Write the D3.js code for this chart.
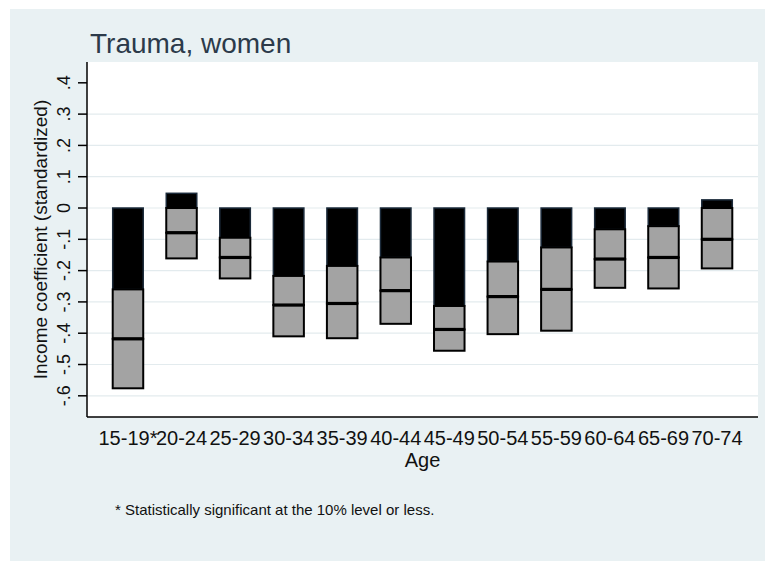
<!DOCTYPE html>
<html>
<head>
<meta charset="utf-8">
<script src="https://cdn.jsdelivr.net/npm/d3@7"></script>
<style>
  html, body { margin: 0; padding: 0; background: #ffffff; }
  svg { display: block; }
  text { font-family: "Liberation Sans", Arial, sans-serif; }
</style>
</head>
<body>
<svg id="chart" width="765" height="561"></svg>
<script>
// Age groups (asterisk marks significance)
const ages = ["15-19*", "20-24", "25-29", "30-34", "35-39", "40-44",
              "45-49", "50-54", "55-59", "60-64", "65-69", "70-74"];
// End of the dark segment (upper bound of the interval)
const upper = [-0.260, 0.047, -0.095, -0.217, -0.185, -0.158,
               -0.313, -0.171, -0.126, -0.068, -0.058, 0.026];
// Point estimate (line inside the grey box)
const estimate = [-0.418, -0.079, -0.158, -0.310, -0.305, -0.264,
                  -0.388, -0.283, -0.260, -0.163, -0.158, -0.100];
// Lower bound of the interval
const lower = [-0.576, -0.161, -0.225, -0.410, -0.416, -0.370,
               -0.456, -0.403, -0.392, -0.255, -0.257, -0.193];

// Y axis ticks and their labels
const yTicks = [-0.6, -0.5, -0.4, -0.3, -0.2, -0.1, 0, 0.1, 0.2, 0.3, 0.4];
const yTickLabels = ["-.6", "-.5", "-.4", "-.3", "-.2", "-.1", "0", ".1", ".2", ".3", ".4"];

const titleText = "Trauma, women";
const yTitle = "Income coefficient (standardized)";
const xTitle = "Age";
const note = "* Statistically significant at the 10% level or less.";

const svg = d3.select("#chart");
const W = 765, H = 561;
const plot = { left: 87, right: 758, top: 62, bottom: 417 };

// outer graph background
svg.append("rect").attr("x", 10).attr("y", 9)
  .attr("width", W - 10).attr("height", H - 9).attr("fill", "#e9f1f3");
// plot region
svg.append("rect").attr("x", plot.left).attr("y", plot.top)
  .attr("width", plot.right - plot.left).attr("height", plot.bottom - plot.top)
  .attr("fill", "#ffffff");

const y = d3.scaleLinear().domain([-0.6677, 0.4665]).range([plot.bottom, plot.top]);
const x = d3.scaleBand().domain(ages).range([plot.left, plot.right])
  .paddingInner(0.43).paddingOuter(0.48);

// horizontal gridlines
svg.append("g").selectAll("line")
  .data(yTicks.filter(v => v < 0.35))
  .join("line")
  .attr("x1", plot.left).attr("x2", plot.right)
  .attr("y1", d => y(d)).attr("y2", d => y(d))
  .attr("stroke", "#e3ebee").attr("stroke-width", 1.2);

// bars
const rows = ages.map((a, i) => ({ age: a, upper: upper[i], est: estimate[i], lower: lower[i] }));
const bars = svg.append("g");
rows.forEach(r => {
  const x0 = x(r.age), bw = x.bandwidth();
  // dark segment from zero to the upper bound
  bars.append("rect")
    .attr("x", x0).attr("width", bw)
    .attr("y", Math.min(y(0), y(r.upper)))
    .attr("height", Math.abs(y(r.upper) - y(0)))
    .attr("fill", "#000000").attr("stroke", "#1b2a3a").attr("stroke-width", 1.5);
  const greyTop = Math.min(0, r.upper);
  // grey boxes: upper bound to estimate, estimate to lower bound
  [[greyTop, r.est], [r.est, r.lower]].forEach(([a, b]) => {
    bars.append("rect")
      .attr("x", x0).attr("width", bw)
      .attr("y", y(a)).attr("height", y(b) - y(a))
      .attr("fill", "#a3a3a3").attr("stroke", "#000000").attr("stroke-width", 2);
  });
  // thicker line at the point estimate
  bars.append("line")
    .attr("x1", x0).attr("x2", x0 + bw)
    .attr("y1", y(r.est)).attr("y2", y(r.est))
    .attr("stroke", "#000000").attr("stroke-width", 3.2);
});

// axis lines
svg.append("line").attr("x1", plot.left).attr("x2", plot.left)
  .attr("y1", plot.top).attr("y2", plot.bottom)
  .attr("stroke", "#000").attr("stroke-width", 1.5);
svg.append("line").attr("x1", plot.left).attr("x2", plot.right)
  .attr("y1", plot.bottom).attr("y2", plot.bottom)
  .attr("stroke", "#000").attr("stroke-width", 1.5);

// y ticks and rotated labels
const yAxis = svg.append("g");
yTicks.forEach((v, i) => {
  yAxis.append("line").attr("x1", plot.left - 9).attr("x2", plot.left)
    .attr("y1", y(v)).attr("y2", y(v))
    .attr("stroke", "#000").attr("stroke-width", 1.5);
  yAxis.append("text")
    .attr("transform", `translate(70,${y(v)}) rotate(-90)`)
    .attr("text-anchor", "middle")
    .attr("font-size", 18).attr("fill", "#111")
    .text(yTickLabels[i]);
});

// x category labels
svg.append("g").selectAll("text")
  .data(ages).join("text")
  .attr("x", d => x(d) + x.bandwidth() / 2)
  .attr("y", 445)
  .attr("text-anchor", "middle")
  .attr("font-size", 20).attr("fill", "#111")
  .text(d => d);

// titles
svg.append("text").attr("x", 90).attr("y", 53)
  .attr("font-size", 28).attr("fill", "#2c3a4a").text(titleText);
svg.append("text")
  .attr("transform", `translate(46.5,${(plot.top + plot.bottom) / 2}) rotate(-90)`)
  .attr("text-anchor", "middle").attr("font-size", 19).attr("fill", "#111")
  .text(yTitle);
svg.append("text").attr("x", (plot.left + plot.right) / 2).attr("y", 466.5)
  .attr("text-anchor", "middle").attr("font-size", 20).attr("fill", "#111")
  .text(xTitle);
svg.append("text").attr("x", 115).attr("y", 515)
  .attr("font-size", 15).attr("fill", "#111").text(note);
</script>
</body>
</html>
